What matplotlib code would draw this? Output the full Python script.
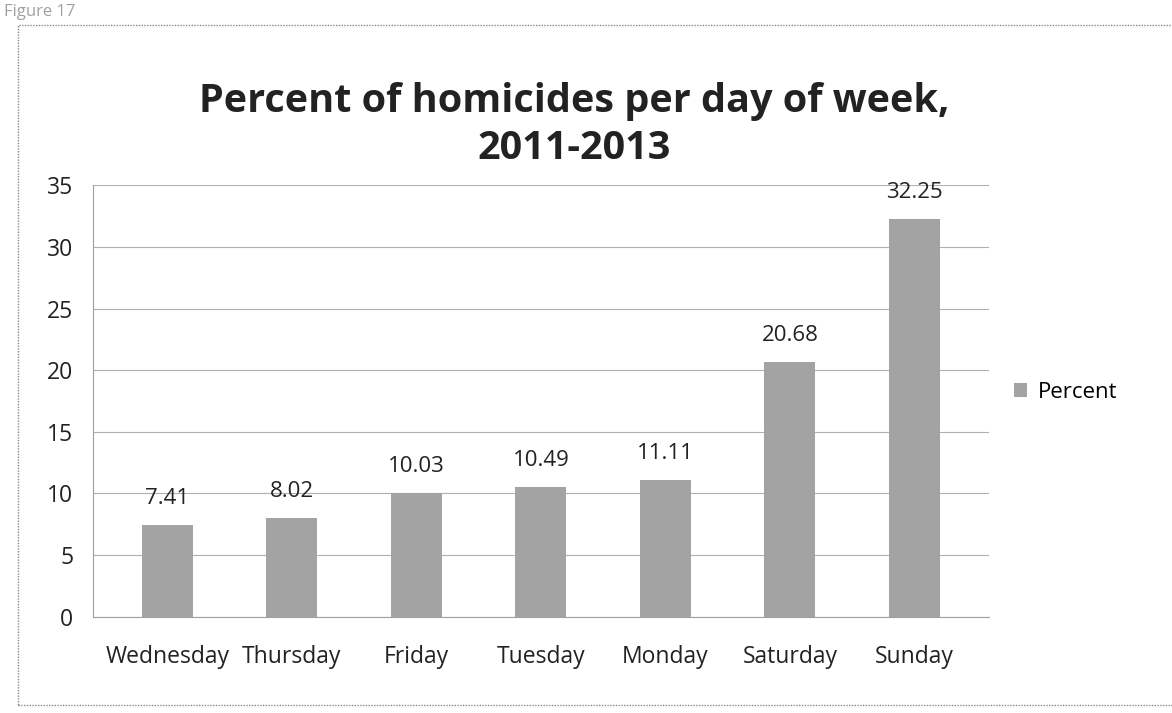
import matplotlib
matplotlib.use("Agg")
import matplotlib.pyplot as plt
from matplotlib.patches import Rectangle

days = ["Wednesday", "Thursday", "Friday", "Tuesday", "Monday", "Saturday", "Sunday"]
percent = [7.41, 8.02, 10.03, 10.49, 11.11, 20.68, 32.25]
yticks = [0, 5, 10, 15, 20, 25, 30, 35]

plt.rcParams['font.family'] = ['Open Sans', 'DejaVu Sans']

fig = plt.figure(figsize=(11.72, 7.13), dpi=100)
fig.patch.set_facecolor('white')

# outer chart border
fig.patches.append(Rectangle((18 / 1172, 8 / 713), 1.0, 680 / 713,
                             transform=fig.transFigure, fill=False,
                             edgecolor='#8a8a8a', linewidth=1.0, linestyle=(0, (1, 1))))
fig.text(0.003, 0.995, "Figure 17", color='#a0a0a0', fontsize=12, va='top', ha='left')

fig.text(0.49, 0.825, "Percent of homicides per day of week,\n2011-2013",
         ha='center', va='center', fontsize=28.5, fontweight='bold', color='#222222',
         linespacing=1.25)

ax = fig.add_axes([0.079, 0.135, 0.765, 0.605])
x = range(len(days))
bars = ax.bar(x, percent, width=0.41, color='#a3a3a3', zorder=3)
for xi, v in zip(x, percent):
    ax.text(xi, v + 1.3, f"{v:.2f}", ha='center', va='bottom', fontsize=16, color='#222222')

ax.set_ylim(0, 35)
ax.set_xlim(-0.6, len(days) - 0.4)
ax.set_yticks(yticks)
ax.set_xticks(list(x))
ax.set_xticklabels(days)
ax.tick_params(axis='both', labelsize=16.5, colors='#222222', length=0, pad=14)
ax.tick_params(axis='x', pad=20)
ax.grid(axis='y', color='#b0b0b0', linewidth=0.8, zorder=0)
for s in ['top', 'right']:
    ax.spines[s].set_visible(False)
ax.spines['left'].set_color('#a0a0a0')
ax.spines['bottom'].set_color('#a0a0a0')

ax.legend([bars], ["Percent"], loc='center left', bbox_to_anchor=(1.005, 0.52),
          frameon=False, fontsize=16, handlelength=0.6, handleheight=0.6, handletextpad=0.5)

fig.savefig("out.png", dpi=100)
